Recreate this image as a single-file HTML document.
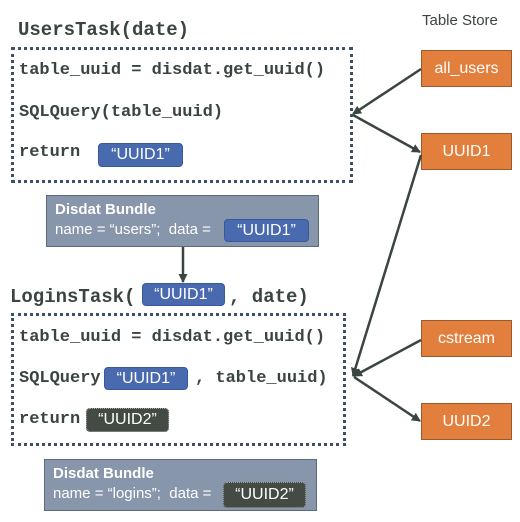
<!DOCTYPE html>
<html><head><meta charset="utf-8"><style>
body{margin:0;width:520px;height:522px;background:#fff;position:relative;overflow:hidden}
.m{position:absolute;font-family:"Liberation Mono",monospace;font-weight:bold;color:#3b4540;white-space:nowrap}
.box{position:absolute;border:3px dotted #3d5068;box-sizing:border-box}
.pill{position:absolute;background:#4a6aaf;color:#fff;border-radius:4px;font-family:"Liberation Sans",sans-serif;font-size:16px;text-align:center;box-sizing:border-box;border:1px solid #3a5898}
.dk{background:#434b44;border:1px dotted #aaa}
.bund{position:absolute;background:#8796ab;border:1px solid #5c6a7c;box-sizing:border-box;color:#fff;font-family:"Liberation Sans",sans-serif;font-size:15px}
.or{position:absolute;left:421px;width:91px;height:37px;background:#e27f3c;border:1px solid #9a5a2c;box-sizing:border-box;color:#fff;font-family:"Liberation Sans",sans-serif;font-size:16px;text-align:center;line-height:35px}
</style></head><body>
<div class="m" style="left:18px;top:19px;font-size:19px">UsersTask(date)</div>
<div class="box" style="left:11px;top:47px;width:342px;height:136px"></div>
<div class="m" style="left:19px;top:61px;font-size:17px">table_uuid = disdat.get_uuid()</div>
<div class="m" style="left:19px;top:103px;font-size:17px">SQLQuery(table_uuid)</div>
<div class="m" style="left:19px;top:143px;font-size:17px">return</div>
<div class="pill" style="left:98px;top:143px;width:85px;height:24px;line-height:22px">“UUID1”</div>

<div class="bund" style="left:46px;top:195px;width:273px;height:52px"><div style="position:absolute;left:8px;top:5px;font-weight:bold">Disdat Bundle</div><div style="position:absolute;left:8px;top:25px">name = “users”;&nbsp; data =</div></div>
<div class="pill" style="left:224px;top:219px;width:85px;height:23px;line-height:21px">“UUID1”</div>

<div class="m" style="left:10px;top:286px;font-size:19px">LoginsTask(</div>
<div class="pill" style="left:142px;top:283px;width:83px;height:23px;line-height:21px">“UUID1”</div>
<div class="m" style="left:229px;top:286px;font-size:19px">, date)</div>
<div class="box" style="left:11px;top:313px;width:335px;height:133px"></div>
<div class="m" style="left:19px;top:328px;font-size:17px">table_uuid = disdat.get_uuid()</div>
<div class="m" style="left:19px;top:369px;font-size:17px">SQLQuery</div>
<div class="pill" style="left:104px;top:367px;width:84px;height:23px;line-height:21px">“UUID1”</div>
<div class="m" style="left:195px;top:369px;font-size:17px">, table_uuid)</div>
<div class="m" style="left:19px;top:410px;font-size:17px">return</div>
<div class="pill dk" style="left:86px;top:408px;width:83px;height:24px;line-height:22px">“UUID2”</div>

<div class="bund" style="left:44px;top:459px;width:273px;height:52px"><div style="position:absolute;left:8px;top:5px;font-weight:bold">Disdat Bundle</div><div style="position:absolute;left:8px;top:25px">name = “logins”;&nbsp; data =</div></div>
<div class="pill dk" style="left:223px;top:482px;width:83px;height:26px;line-height:24px">“UUID2”</div>

<div style="position:absolute;left:422px;top:12px;font-family:'Liberation Sans',sans-serif;font-size:15px;color:#3b4540">Table Store</div>
<div class="or" style="top:50px">all_users</div>
<div class="or" style="top:133px">UUID1</div>
<div class="or" style="top:320px">cstream</div>
<div class="or" style="top:403px">UUID2</div>

<svg width="520" height="522" style="position:absolute;left:0;top:0">
<defs><marker id="a" markerWidth="9" markerHeight="9" refX="8" refY="4.5" orient="auto" markerUnits="userSpaceOnUse"><path d="M0,0 L9,4.5 L0,9 z" fill="#3b4540"/></marker></defs>
<g stroke="#3b4540" stroke-width="2.5" fill="none">
<line x1="183" y1="247" x2="183" y2="282" marker-end="url(#a)"/>
<line x1="421" y1="69" x2="353" y2="114" marker-end="url(#a)"/>
<line x1="353" y1="115" x2="420" y2="152" marker-end="url(#a)"/>
<line x1="421" y1="155" x2="353" y2="376" marker-end="url(#a)"/>
<line x1="421" y1="340" x2="354" y2="376" marker-end="url(#a)"/>
<line x1="354" y1="377" x2="420" y2="421" marker-end="url(#a)"/>
</g></svg>
</body></html>
